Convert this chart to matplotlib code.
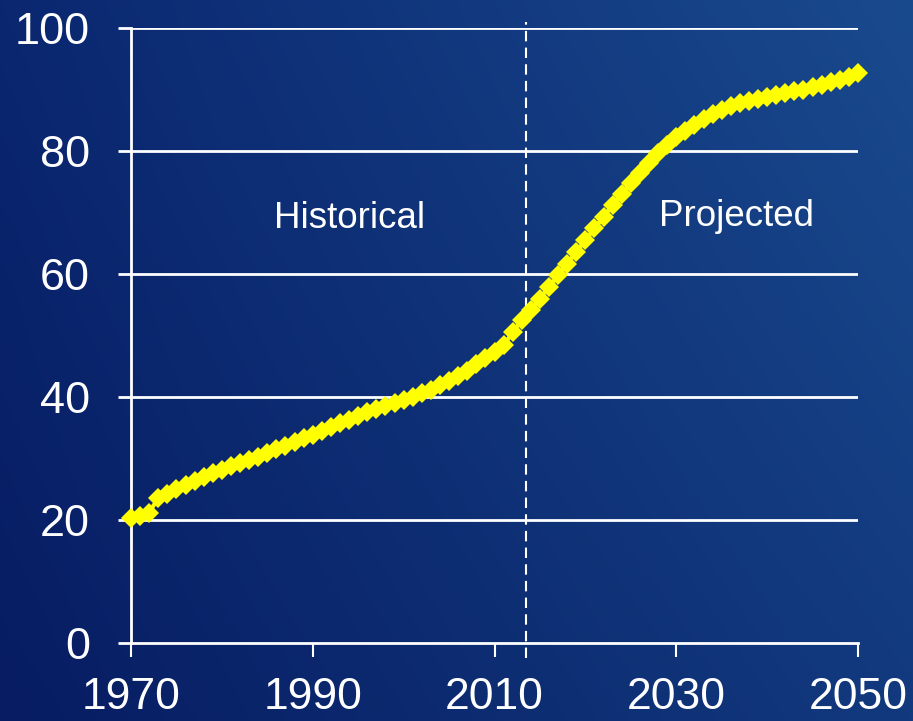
import numpy as np
import matplotlib
matplotlib.use("Agg")
import matplotlib.pyplot as plt
from matplotlib.colors import to_rgb

years = list(range(1970, 2051))
values = [20.3, 20.7, 21.2, 23.6, 24.3, 25.0, 25.7, 26.4, 27.0, 27.6,
          28.2, 28.7, 29.2, 29.8, 30.3, 30.9, 31.5, 32.1, 32.7, 33.3,
          33.9, 34.5, 35.1, 35.7, 36.3, 36.9, 37.5, 38.0, 38.5, 39.0,
          39.5, 40.0, 40.6, 41.2, 41.9, 42.6, 43.4, 44.3, 45.3, 46.3,
          47.3, 48.4, 50.5, 52.5, 54.2, 56.0, 57.9, 59.8, 61.7, 63.6,
          65.5, 67.4, 69.3, 71.2, 73.0, 74.8, 76.5, 78.1, 79.6, 81.0,
          82.2, 83.3, 84.3, 85.2, 86.0, 86.7, 87.3, 87.8, 88.2, 88.5,
          88.8, 89.1, 89.4, 89.7, 90.0, 90.4, 90.8, 91.2, 91.6, 92.1,
          92.7]
x_ticks = [1970, 1990, 2010, 2030, 2050]
y_ticks = [0, 20, 40, 60, 80, 100]
divider_year = 2013.5
labels = ["Historical", "Projected"]

W, H = 913, 721
fig = plt.figure(figsize=(W / 100, H / 100), dpi=100)

# background gradient
bg = fig.add_axes([0, 0, 1, 1], zorder=0)
bg.axis("off")
tl, tr = np.array(to_rgb("#0a2770")), np.array(to_rgb("#1a4a8e"))
bl, br = np.array(to_rgb("#071c62")), np.array(to_rgb("#12397e"))
u = np.linspace(0, 1, 200)[None, :, None]
v = np.linspace(0, 1, 160)[:, None, None]
img = (1 - v) * ((1 - u) * tl + u * tr) + v * ((1 - u) * bl + u * br)
bg.imshow(img, aspect="auto", extent=[0, 1, 0, 1], interpolation="bilinear")

ax = fig.add_axes([131 / W, (H - 643) / H, (858 - 131) / W, (643 - 28) / H], zorder=1)
ax.set_facecolor("none")
ax.set_xlim(1970, 2050)
ax.set_ylim(0, 100)

font = "Liberation Sans"
for y in y_ticks[1:]:
    ax.axhline(y, color="white", lw=2, zorder=1)
ax.axvline(divider_year, ymin=-0.025, ymax=1.01, color="white", lw=1.5,
           ls=(0, (5, 3)), clip_on=False, zorder=1)

ax.plot(years, values, color="#ffff00", lw=3, marker="D", ms=10.5,
        mew=0, zorder=3, clip_on=False)

for s in ["top", "right"]:
    ax.spines[s].set_visible(False)
for s in ["left", "bottom"]:
    ax.spines[s].set_color("white")
    ax.spines[s].set_linewidth(2)

ax.set_xticks(x_ticks)
ax.set_yticks(y_ticks)
ax.set_xticklabels([str(t) for t in x_ticks], fontsize=32, family=font, color="white")
ax.set_yticklabels([str(t) for t in y_ticks], fontsize=32.5, family=font, color="white")
ax.tick_params(axis="x", direction="out", length=10, width=1.5, color="white", pad=14.5)
ax.tick_params(axis="y", direction="out", length=9.5, width=2, color="white", pad=20)

ax.text(1994.1, 69.0, labels[0], fontsize=26.5, family=font, color="white",
        ha="center", va="center")
ax.text(2036.6, 69.4, labels[1], fontsize=26.5, family=font, color="white",
        ha="center", va="center")

fig.savefig("out.png", dpi=100)
